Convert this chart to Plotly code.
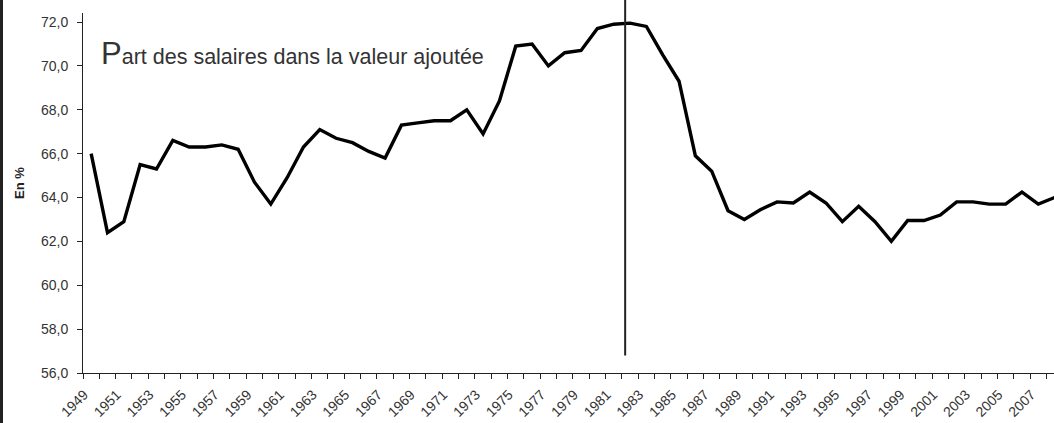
import plotly.graph_objects as go

years = list(range(1949, 2009))
part_salaires = [
    66.0, 62.4, 62.9, 65.5, 65.3, 66.6, 66.3, 66.3, 66.4, 66.2,
    64.7, 63.7, 64.9, 66.3, 67.1, 66.7, 66.5, 66.1, 65.8, 67.3,
    67.4, 67.5, 67.5, 68.0, 66.9, 68.4, 70.9, 71.0, 70.0, 70.6,
    70.7, 71.7, 71.9, 71.95, 71.8, 70.5, 69.3, 65.9, 65.2, 63.4,
    63.0, 63.45, 63.8, 63.75, 64.25, 63.75, 62.9, 63.6, 62.9, 62.0,
    62.95, 62.95, 63.2, 63.8, 63.8, 63.7, 63.7, 64.25, 63.7, 64.0,
]
label_years = list(range(1949, 2009, 2))
y_ticks = [56, 58, 60, 62, 64, 66, 68, 70, 72]
marker_year = 1981.7
title_text = "Part des salaires dans la valeur ajoutée"
y_title = "En %"

W, H = 1054, 423
ml, mt, mb, mr = 83, 13, 50, 0
pw = W - ml - mr
ph = H - mt - mb
px_per_year = 16.33
x0 = years[0] - 0.5
x1 = x0 + pw / px_per_year
y_lo = 56.0
y_hi = 72.0 + 9 / 21.9

fig = go.Figure()
fig.add_trace(go.Scatter(
    x=years, y=part_salaires, mode="lines",
    line=dict(color="black", width=3.4),
    showlegend=False, hoverinfo="skip",
))

fig.add_shape(type="line", xref="x", yref="paper",
              x0=marker_year, x1=marker_year,
              y0=(56.8 - y_lo) / (y_hi - y_lo), y1=1 + mt / ph,
              line=dict(color="#222222", width=2))

# left dark border strip
fig.add_shape(type="rect", xref="paper", yref="paper",
              x0=-ml / pw, x1=-(ml - 3) / pw, y0=-mb / ph, y1=1 + mt / ph,
              fillcolor="#222222", line=dict(width=0))

fig.add_annotation(
    xref="paper", yref="y", x=(99 - ml) / pw, y=70.55,
    xanchor="left", yanchor="middle", showarrow=False,
    text="<span style='font-size:31px'>" + title_text[0] + "</span>" + title_text[1:],
    font=dict(family="Liberation Sans, Arial", size=21.5, color="#333333"),
)

fig.add_annotation(
    xref="paper", yref="paper", x=(19 - ml) / pw, y=(H - mb - 183) / ph,
    xanchor="center", yanchor="middle", showarrow=False, textangle=-90,
    text="<b>" + y_title + "</b>",
    font=dict(family="Liberation Sans, Arial", size=13, color="#222222"),
)

fig.update_layout(
    width=W, height=H,
    margin=dict(l=ml, r=mr, t=mt, b=mb, pad=0),
    plot_bgcolor="white", paper_bgcolor="white",
    separators=", ",
    font=dict(family="Liberation Sans, Arial", color="#333333"),
    xaxis=dict(
        range=[x0, x1], showgrid=False, zeroline=False,
        showline=True, linecolor="#222222", linewidth=1,
        tickmode="array", tickvals=label_years,
        ticktext=[str(y) for y in label_years],
        ticks="outside", ticklen=0, tickangle=-45,
        tickfont=dict(size=14, color="#333333"),
        ticklabelshift=-7, ticklabelstandoff=7,
        minor=dict(tickmode="array",
                   tickvals=[y - 0.5 for y in years] + [years[-1] + 0.5],
                   ticks="outside", ticklen=5, tickcolor="#222222",
                   showgrid=False),
    ),
    yaxis=dict(
        range=[y_lo, y_hi], showgrid=False, zeroline=False,
        showline=True, linecolor="#222222", linewidth=1,
        tickmode="array", tickvals=y_ticks,
        ticktext=[f"{v:.1f}".replace(".", ",") for v in y_ticks],
        ticks="outside", ticklen=5, tickcolor="#222222",
        tickfont=dict(size=14, color="#333333"),
        ticklabelstandoff=6,
    ),
)

fig.write_html("out.html", post_script="document.body.style.margin='0';",
               config={"displayModeBar": False})
